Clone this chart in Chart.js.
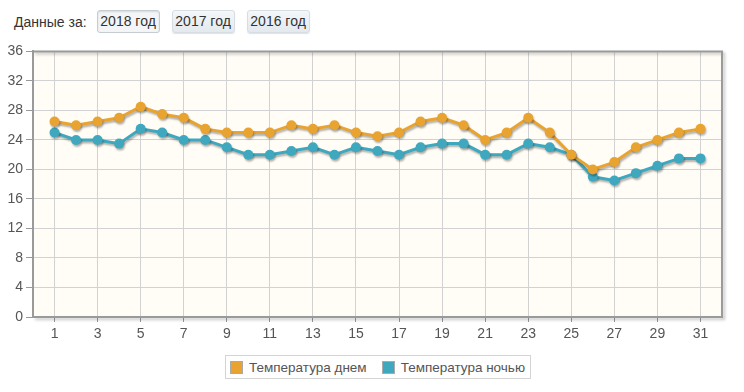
<!DOCTYPE html>
<html><head><meta charset="utf-8">
<script src="https://cdn.jsdelivr.net/npm/chart.js@4/dist/chart.umd.min.js"></script>
<style>
html,body{margin:0;padding:0;background:#fff;width:744px;height:392px;overflow:hidden;font-family:"Liberation Sans",Arial,sans-serif;}
#top{position:absolute;left:14px;top:10px;height:23px;font-size:14px;color:#333;display:flex;align-items:center;}
#top .lbl{margin-right:10px;}
#top .btn{display:inline-block;box-sizing:border-box;width:63px;text-align:center;height:23px;line-height:21px;padding:0;margin-right:12px;border:1px solid #d6dde3;border-radius:3px;background:linear-gradient(#f4f7f9,#e3e9ee);color:#333;box-shadow:0 1px 1px rgba(0,0,0,0.12);white-space:nowrap;}
#top .btn.active{background:#f3f5f6;border-color:#c5cdd3;box-shadow:inset 0 1px 2px rgba(0,0,0,0.12);}
#wrap{position:absolute;left:0;top:40px;width:744px;height:305px;}
#legend{position:absolute;left:225px;top:355px;height:22px;border:1px solid #d4d4d4;display:flex;align-items:center;font-size:13.5px;color:#555;padding:0 5px 0 4px;}
#legend .it{display:flex;align-items:center;margin-right:15px;}
#legend .it:last-child{margin-right:0;}
#legend .sw{width:13px;height:13px;margin-right:6px;border:1px solid #aaa;box-sizing:border-box;}
</style></head>
<body>
<div id="top"><span class="lbl">Данные за:</span><span class="btn active">2018 год</span><span class="btn">2017 год</span><span class="btn">2016 год</span></div>
<div id="wrap"><canvas id="c" width="744" height="305"></canvas></div>
<div id="legend"></div>
<script>
const days = [1,2,3,4,5,6,7,8,9,10,11,12,13,14,15,16,17,18,19,20,21,22,23,24,25,26,27,28,29,30,31];
const dayTemps = [26.5,26,26.5,27,28.5,27.5,27,25.5,25,25,25,26,25.5,26,25,24.5,25,26.5,27,26,24,25,27,25,22,20,21,23,24,25,25.5];
const nightTemps = [25,24,24,23.5,25.5,25,24,24,23,22,22,22.5,23,22,23,22.5,22,23,23.5,23.5,22,22,23.5,23,22,19,18.5,19.5,20.5,21.5,21.5];
const xTickLabels = [1,3,5,7,9,11,13,15,17,19,21,23,25,27,29,31];
const yTickLabels = [0,4,8,12,16,20,24,28,32,36];
const seriesNames = ["Температура днем","Температура ночью"];
const colors = ["#E8A331","#3FA8BF"];

const legend = document.getElementById('legend');
seriesNames.forEach((n,i)=>{
  const d=document.createElement('span');d.className='it';
  d.innerHTML='<span class="sw" style="background:'+colors[i]+'"></span>'+n;
  legend.appendChild(d);
});

const bgPlugin = {
  id:'bg',
  beforeDraw(chart){
    const {ctx, chartArea:a} = chart;
    ctx.save();
    ctx.fillStyle='#FFFDF5';
    ctx.fillRect(a.left,a.top,a.right-a.left,a.bottom-a.top);
    ctx.restore();
  },
  afterDatasetsDraw(chart){
    const {ctx, chartArea:a} = chart;
    ctx.save();
    ctx.shadowColor='rgba(0,0,0,0.25)';ctx.shadowOffsetX=2;ctx.shadowOffsetY=2;ctx.shadowBlur=3;
    ctx.strokeStyle='#9a9a9a';ctx.lineWidth=2;
    ctx.beginPath();
    ctx.moveTo(a.left,a.top);ctx.lineTo(a.right,a.top);ctx.lineTo(a.right,a.bottom);ctx.lineTo(a.left,a.bottom);
    ctx.stroke();
    ctx.restore();
  },
  beforeDatasetDraw(chart){
    const ctx=chart.ctx;ctx.save();
    ctx.shadowColor='rgba(0,0,0,0.3)';ctx.shadowOffsetX=1;ctx.shadowOffsetY=2;ctx.shadowBlur=2;
  },
  afterDatasetDraw(chart){chart.ctx.restore();}
};

const mk=(arr)=>days.map((d,i)=>({x:d,y:arr[i]}));
new Chart(document.getElementById('c'),{
  type:'line',
  data:{datasets:[
    {label:seriesNames[0],data:mk(dayTemps),borderColor:colors[0],backgroundColor:colors[0],borderWidth:3,pointRadius:5,pointBorderWidth:0,pointBackgroundColor:colors[0],tension:0},
    {label:seriesNames[1],data:mk(nightTemps),borderColor:colors[1],backgroundColor:colors[1],borderWidth:3,pointRadius:5,pointBorderWidth:0,pointBackgroundColor:colors[1],tension:0}
  ]},
  options:{
    responsive:false,animation:false,
    layout:{padding:{top:10,right:22,left:0,bottom:0}},
    plugins:{legend:{display:false},tooltip:{enabled:false}},
    scales:{
      x:{type:'linear',min:0,max:32,
        afterBuildTicks(ax){ax.ticks=xTickLabels.map(v=>({value:v}));},
        afterFit(ax){ax.height=28;},
        ticks:{autoSkip:false,maxRotation:0,color:'#555',font:{family:'"Liberation Sans", Arial',size:14},padding:4},
        grid:{color:'#d2d2d2',lineWidth:1,tickLength:5,tickColor:'#999'},
        border:{display:true,color:'#9a9a9a',width:2}
      },
      y:{type:'linear',min:0,max:36,
        afterBuildTicks(ax){ax.ticks=yTickLabels.map(v=>({value:v}));},
        afterFit(ax){ax.width=33;},
        ticks:{color:'#555',font:{family:'"Liberation Sans", Arial',size:14},padding:3},
        grid:{color:'#d2d2d2',lineWidth:1,tickLength:7,tickColor:'#999'},
        border:{display:true,color:'#9a9a9a',width:2}
      }
    }
  },
  plugins:[bgPlugin]
});
</script>
</body></html>
